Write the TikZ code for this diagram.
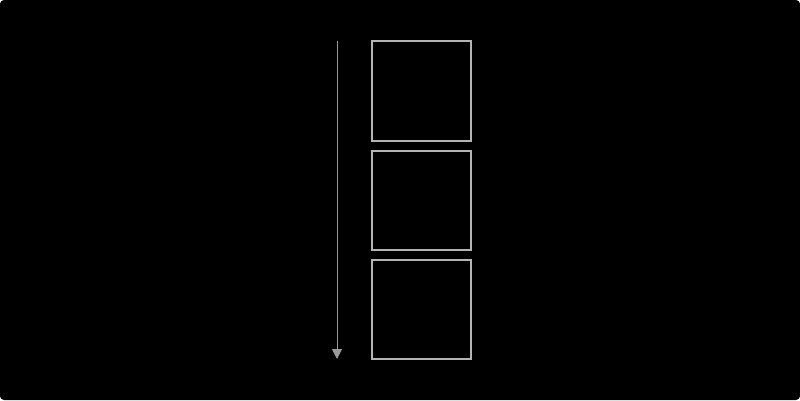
\documentclass[tikz,border=0pt]{standalone}
\usetikzlibrary{arrows.meta}
\definecolor{boxgray}{HTML}{B4B4B4}
\definecolor{arrgray}{HTML}{9A9A9A}
\tikzset{
  cell/.style={draw=boxgray, line width=2pt, minimum width=99pt, minimum height=99pt, inner sep=0pt},
  flow/.style={draw=arrgray, line width=1pt, -{Triangle[width=10pt,length=10pt]}, arrgray}
}
\begin{document}
\begin{tikzpicture}[x=1pt,y=1pt]
  \useasboundingbox (0,0) rectangle (800,400);
  \fill[white] (0,0) rectangle (800,400);
  \fill[black, rounded corners=4pt] (0,0) rectangle (800,400);
  \node[cell] (b1) at (421,309) {};
  \node[cell] (b2) at (421,200) {};
  \node[cell] (b3) at (421,91) {};
  \coordinate (s) at (337,359);
  \coordinate (e) at (337,41);
  \draw[flow] (s) -- (e);
\end{tikzpicture}
\end{document}
